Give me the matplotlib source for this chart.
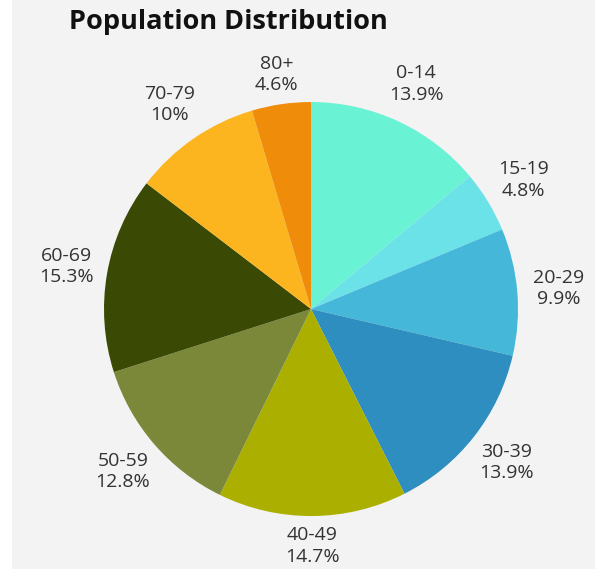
import matplotlib.pyplot as plt
from matplotlib.patches import Rectangle

groups = ["0-14", "15-19", "20-29", "30-39", "40-49", "50-59", "60-69", "70-79", "80+"]
shares = [13.9, 4.8, 9.9, 13.9, 14.7, 12.8, 15.3, 10, 4.6]
share_labels = ["13.9%", "4.8%", "9.9%", "13.9%", "14.7%", "12.8%", "15.3%", "10%", "4.6%"]
colors = ["#6af2d4", "#6be1e8", "#45b8d9", "#2e8ec0", "#abb000", "#7b883a",
          "#3a4a05", "#fcb51f", "#ef8d0a"]

fig = plt.figure(figsize=(5.95, 5.69), dpi=100, facecolor="white")
fig.patches.append(Rectangle((12 / 595, 0), 1, 1, transform=fig.transFigure,
                             facecolor="#f3f3f3", edgecolor="none", zorder=-5))

ax = fig.add_axes([0.1748, 0.0931, 0.6958, 0.7276])
ax.set_facecolor("none")

labels = [g + "\n" + s for g, s in zip(groups, share_labels)]
wedges, texts = ax.pie(shares, colors=colors, startangle=90, counterclock=False,
                       labels=labels, labeldistance=1.2, radius=1,
                       textprops=dict(fontsize=14, color="#333333",
                                      family="Open Sans", linespacing=1.25))
for t in texts:
    t.set_ha("center")
    t.set_va("center")
# bottom and top-most labels sit a little closer to the pie
for i in (4, 8):
    x, y = texts[i].get_position()
    texts[i].set_position((x * 0.955, y * 0.955))

ax.set_xlim(-1, 1)
ax.set_ylim(-1, 1)
ax.set_aspect("equal")

fig.text(0.384, 0.962, "Population Distribution", ha="center", va="center",
         fontsize=19.5, fontweight="bold", family="Open Sans", color="#111111")

plt.savefig("out.png", dpi=100, facecolor=fig.get_facecolor())
